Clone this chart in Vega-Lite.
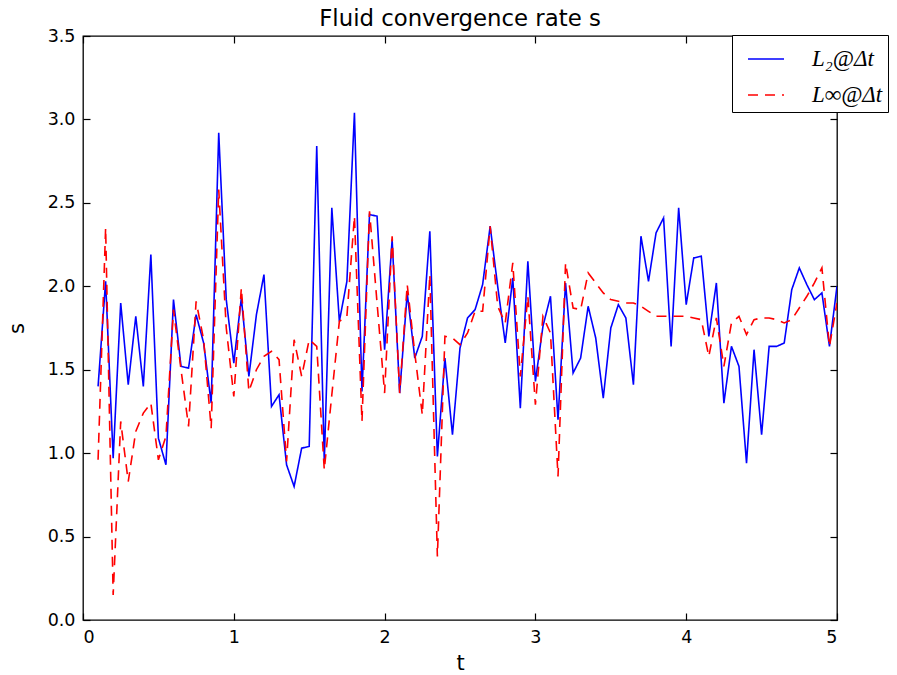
{
  "$schema": "https://vega.github.io/schema/vega-lite/v6.json",
  "width": 754,
  "height": 584,
  "autosize": {"type": "none"},
  "padding": {"left": 83, "top": 36, "right": 60, "bottom": 55},
  "background": "white",
  "title": {"text": "Fluid convergence rate s", "font": "DejaVu Sans", "fontSize": 22.8, "fontWeight": "normal", "color": "black", "baseline": "bottom", "offset": 5, "dy": 32, "anchor": "middle"},
  "config": {
    "view": {"stroke": "black", "strokeWidth": 1.3},
    "axis": {"grid": false, "domain": false, "tickColor": "black", "tickWidth": 1.2, "tickSize": -7, "labelFont": "DejaVu Sans", "labelFontSize": 17.5, "labelColor": "black", "titleFont": "DejaVu Sans", "titleFontSize": 21, "titleFontWeight": "normal", "titleColor": "black"},
    "legend": {"orient": "none", "legendX": 649, "legendY": -1, "strokeColor": "black", "fillColor": "white", "padding": 5, "symbolOffset": 10, "labelOffset": 27, "symbolType": "stroke", "symbolSize": 1296, "symbolStrokeWidth": 1.6, "rowPadding": 5, "labelFont": "Liberation Serif", "labelFontStyle": "italic", "labelFontSize": 23, "labelColor": "black", "title": null, "labelLimit": 250}
  },
  "data": {"values": [
    {"t":0.10,"l2":1.40,"linf":0.96},{"t":0.15,"l2":2.03,"linf":2.35},{"t":0.20,"l2":0.97,"linf":0.15},{"t":0.25,"l2":1.90,"linf":1.19},{"t":0.30,"l2":1.41,"linf":0.83},
    {"t":0.35,"l2":1.82,"linf":1.13},{"t":0.40,"l2":1.40,"linf":1.24},{"t":0.45,"l2":2.19,"linf":1.30},{"t":0.50,"l2":1.09,"linf":0.96},{"t":0.55,"l2":0.93,"linf":1.10},
    {"t":0.60,"l2":1.92,"linf":1.86},{"t":0.65,"l2":1.52,"linf":1.50},{"t":0.70,"l2":1.51,"linf":1.16},{"t":0.75,"l2":1.83,"linf":1.91},{"t":0.80,"l2":1.66,"linf":1.68},
    {"t":0.85,"l2":1.30,"linf":1.15},{"t":0.90,"l2":2.92,"linf":2.58},{"t":0.95,"l2":1.92,"linf":1.75},{"t":1.00,"l2":1.54,"linf":1.34},{"t":1.05,"l2":1.93,"linf":1.99},
    {"t":1.10,"l2":1.46,"linf":1.37},{"t":1.15,"l2":1.83,"linf":1.50},{"t":1.20,"l2":2.07,"linf":1.58},{"t":1.25,"l2":1.28,"linf":1.61},{"t":1.30,"l2":1.35,"linf":1.56},
    {"t":1.35,"l2":0.93,"linf":0.95},{"t":1.40,"l2":0.80,"linf":1.68},{"t":1.45,"l2":1.03,"linf":1.46},{"t":1.50,"l2":1.04,"linf":1.68},{"t":1.55,"l2":2.84,"linf":1.64},
    {"t":1.60,"l2":0.95,"linf":0.90},{"t":1.65,"l2":2.47,"linf":1.35},{"t":1.70,"l2":1.79,"linf":1.79},{"t":1.75,"l2":2.03,"linf":1.82},{"t":1.80,"l2":3.04,"linf":2.42},
    {"t":1.85,"l2":1.37,"linf":1.19},{"t":1.90,"l2":2.43,"linf":2.45},{"t":1.95,"l2":2.42,"linf":1.90},{"t":2.00,"l2":1.62,"linf":1.36},{"t":2.05,"l2":2.28,"linf":2.30},
    {"t":2.10,"l2":1.36,"linf":1.36},{"t":2.15,"l2":1.96,"linf":2.01},{"t":2.20,"l2":1.57,"linf":1.60},{"t":2.25,"l2":1.70,"linf":1.23},{"t":2.30,"l2":2.33,"linf":2.07},
    {"t":2.35,"l2":0.98,"linf":0.38},{"t":2.40,"l2":1.57,"linf":1.70},{"t":2.45,"l2":1.11,"linf":1.69},{"t":2.50,"l2":1.63,"linf":1.65},{"t":2.55,"l2":1.81,"linf":1.72},
    {"t":2.60,"l2":1.86,"linf":1.85},{"t":2.65,"l2":2.01,"linf":1.85},{"t":2.70,"l2":2.36,"linf":2.36},{"t":2.75,"l2":2.00,"linf":1.88},{"t":2.80,"l2":1.66,"linf":1.78},
    {"t":2.85,"l2":2.05,"linf":2.14},{"t":2.90,"l2":1.27,"linf":1.46},{"t":2.95,"l2":2.15,"linf":1.94},{"t":3.00,"l2":1.43,"linf":1.29},{"t":3.05,"l2":1.76,"linf":1.82},
    {"t":3.10,"l2":1.94,"linf":1.72},{"t":3.15,"l2":1.20,"linf":0.86},{"t":3.20,"l2":2.02,"linf":2.14},{"t":3.25,"l2":1.48,"linf":1.87},{"t":3.30,"l2":1.57,"linf":1.86},
    {"t":3.35,"l2":1.88,"linf":2.08},{"t":3.40,"l2":1.69,"linf":2.02},{"t":3.45,"l2":1.33,"linf":1.96},{"t":3.50,"l2":1.75,"linf":1.92},{"t":3.55,"l2":1.89,"linf":1.91},
    {"t":3.60,"l2":1.81,"linf":1.90},{"t":3.65,"l2":1.41,"linf":1.90},{"t":3.70,"l2":2.30,"linf":1.88},{"t":3.75,"l2":2.03,"linf":1.85},{"t":3.80,"l2":2.32,"linf":1.82},
    {"t":3.85,"l2":2.41,"linf":1.82},{"t":3.90,"l2":1.64,"linf":1.82},{"t":3.95,"l2":2.47,"linf":1.82},{"t":4.00,"l2":1.89,"linf":1.82},{"t":4.05,"l2":2.17,"linf":1.81},
    {"t":4.10,"l2":2.18,"linf":1.80},{"t":4.15,"l2":1.70,"linf":1.58},{"t":4.20,"l2":2.02,"linf":1.81},{"t":4.25,"l2":1.30,"linf":1.52},{"t":4.30,"l2":1.64,"linf":1.78},
    {"t":4.35,"l2":1.52,"linf":1.82},{"t":4.40,"l2":0.94,"linf":1.71},{"t":4.45,"l2":1.62,"linf":1.80},{"t":4.50,"l2":1.11,"linf":1.81},{"t":4.55,"l2":1.64,"linf":1.81},
    {"t":4.60,"l2":1.64,"linf":1.80},{"t":4.65,"l2":1.66,"linf":1.78},{"t":4.70,"l2":1.98,"linf":1.80},{"t":4.75,"l2":2.11,"linf":1.87},{"t":4.80,"l2":2.01,"linf":1.94},
    {"t":4.85,"l2":1.92,"linf":2.02},{"t":4.90,"l2":1.96,"linf":2.11},{"t":4.95,"l2":1.64,"linf":1.64},{"t":5.00,"l2":2.00,"linf":1.90}
  ]},
  "transform": [{"fold": ["l2", "linf"], "as": ["series", "s"]}],
  "layer": [
    {
      "mark": {"type": "line", "strokeWidth": 1.6, "clip": true},
      "encoding": {
        "x": {"field": "t", "type": "quantitative", "scale": {"domain": [0, 5], "nice": false}, "axis": {"orient": "bottom", "values": [0, 1, 2, 3, 4, 5], "labelPadding": 15, "title": "t", "titlePadding": 7, "titleFontSize": 21}},
        "y": {"field": "s", "type": "quantitative", "scale": {"domain": [0, 3.5], "nice": false, "zero": false}, "axis": {"orient": "left", "values": [0, 0.5, 1, 1.5, 2, 2.5, 3, 3.5], "format": ".1f", "labelPadding": 15, "title": "s", "titlePadding": 20, "titleFontSize": 21}},
        "color": {"field": "series", "type": "nominal", "scale": {"domain": ["l2", "linf"], "range": ["#0000ff", "#ff0000"]}, "legend": {"labelExpr": "datum.label == 'l2' ? 'L₂@Δt' : 'L∞@Δt'"}},
        "strokeDash": {"field": "series", "type": "nominal", "scale": {"domain": ["l2", "linf"], "range": [[1, 0], [10, 7]]}, "legend": {"labelExpr": "datum.label == 'l2' ? 'L₂@Δt' : 'L∞@Δt'"}}
      }
    },
    {
      "mark": {"type": "line", "strokeOpacity": 0},
      "encoding": {
        "x": {"field": "t", "type": "quantitative", "axis": {"orient": "top", "values": [0, 1, 2, 3, 4, 5], "labels": false, "labelPadding": 0, "title": null}},
        "y": {"field": "s", "type": "quantitative", "axis": {"orient": "right", "values": [0, 0.5, 1, 1.5, 2, 2.5, 3, 3.5], "labels": false, "title": null}},
        "detail": {"field": "series", "type": "nominal"}
      }
    }
  ],
  "resolve": {"axis": {"x": "independent", "y": "independent"}}
}
